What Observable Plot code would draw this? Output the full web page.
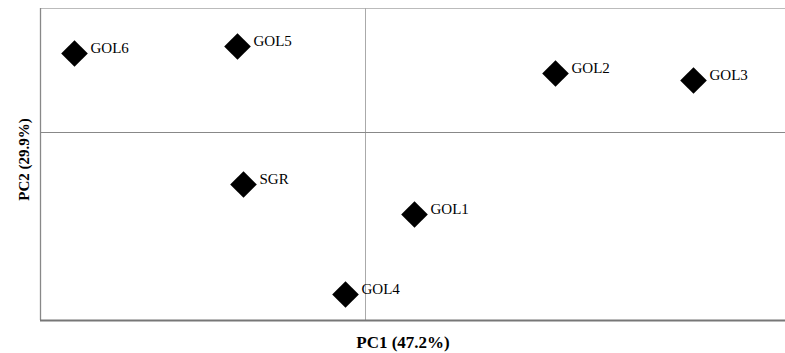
<!DOCTYPE html>
<html>
<head>
<meta charset="utf-8">
<script src="https://cdn.jsdelivr.net/npm/d3@7"></script>
<script src="https://cdn.jsdelivr.net/npm/@observablehq/plot@0.6"></script>
<style>
  html, body { margin: 0; padding: 0; background: #fff; }
</style>
</head>
<body>
<div id="chart"></div>
<script>
const samples = ["GOL6", "GOL5", "GOL2", "GOL3", "SGR", "GOL1", "GOL4"];
const pc1 = [-2.91, -1.28, 1.90, 3.28, -1.22, 0.49, -0.20];
const pc2 = [0.79, 0.86, 0.59, 0.52, -0.52, -0.82, -1.62];
const xDomain = [-3.25, 4.20];
const yDomain = [-1.88, 1.24];
const xLabel = "PC1 (47.2%)";
const yLabel = "PC2 (29.9%)";

const data = samples.map((s, i) => ({name: s, x: pc1[i], y: pc2[i]}));
const serif = "Liberation Serif";

const chart = Plot.plot({
  width: 785,
  height: 353,
  marginTop: 8,
  marginBottom: 33,
  marginLeft: 40,
  marginRight: 0,
  style: {fontFamily: serif, background: "#fff"},
  x: {domain: xDomain, axis: null},
  y: {domain: yDomain, axis: null},
  marks: [
    Plot.ruleY([yDomain[1]], {stroke: "#bbb", strokeWidth: 1}),
    Plot.ruleX([0], {stroke: "#aaa", strokeWidth: 1}),
    Plot.ruleY([0], {stroke: "#888", strokeWidth: 1.2}),
    Plot.ruleX([xDomain[0]], {stroke: "#888", strokeWidth: 1.3}),
    Plot.ruleY([yDomain[0]], {stroke: "#777", strokeWidth: 2}),
    Plot.dot(data, {x: "x", y: "y", symbol: "diamond2", r: 12, fill: "#000", stroke: "none"}),
    Plot.text(data, {x: "x", y: "y", text: "name", textAnchor: "start", dx: 16, dy: -5, fontSize: 15, fontFamily: serif, fill: "#000"}),
    Plot.text([xLabel], {frameAnchor: "bottom", text: d => d, textAnchor: "middle", dx: -10, dy: 27, fontSize: 17, fontFamily: serif, fontWeight: "bold", fill: "#000"}),
    Plot.text([yLabel], {frameAnchor: "left", text: d => d, textAnchor: "middle", rotate: -90, dx: -16, dy: -5, fontSize: 15, fontFamily: serif, fontWeight: "bold", fill: "#000"})
  ]
});
document.getElementById("chart").appendChild(chart);
</script>
</body>
</html>
